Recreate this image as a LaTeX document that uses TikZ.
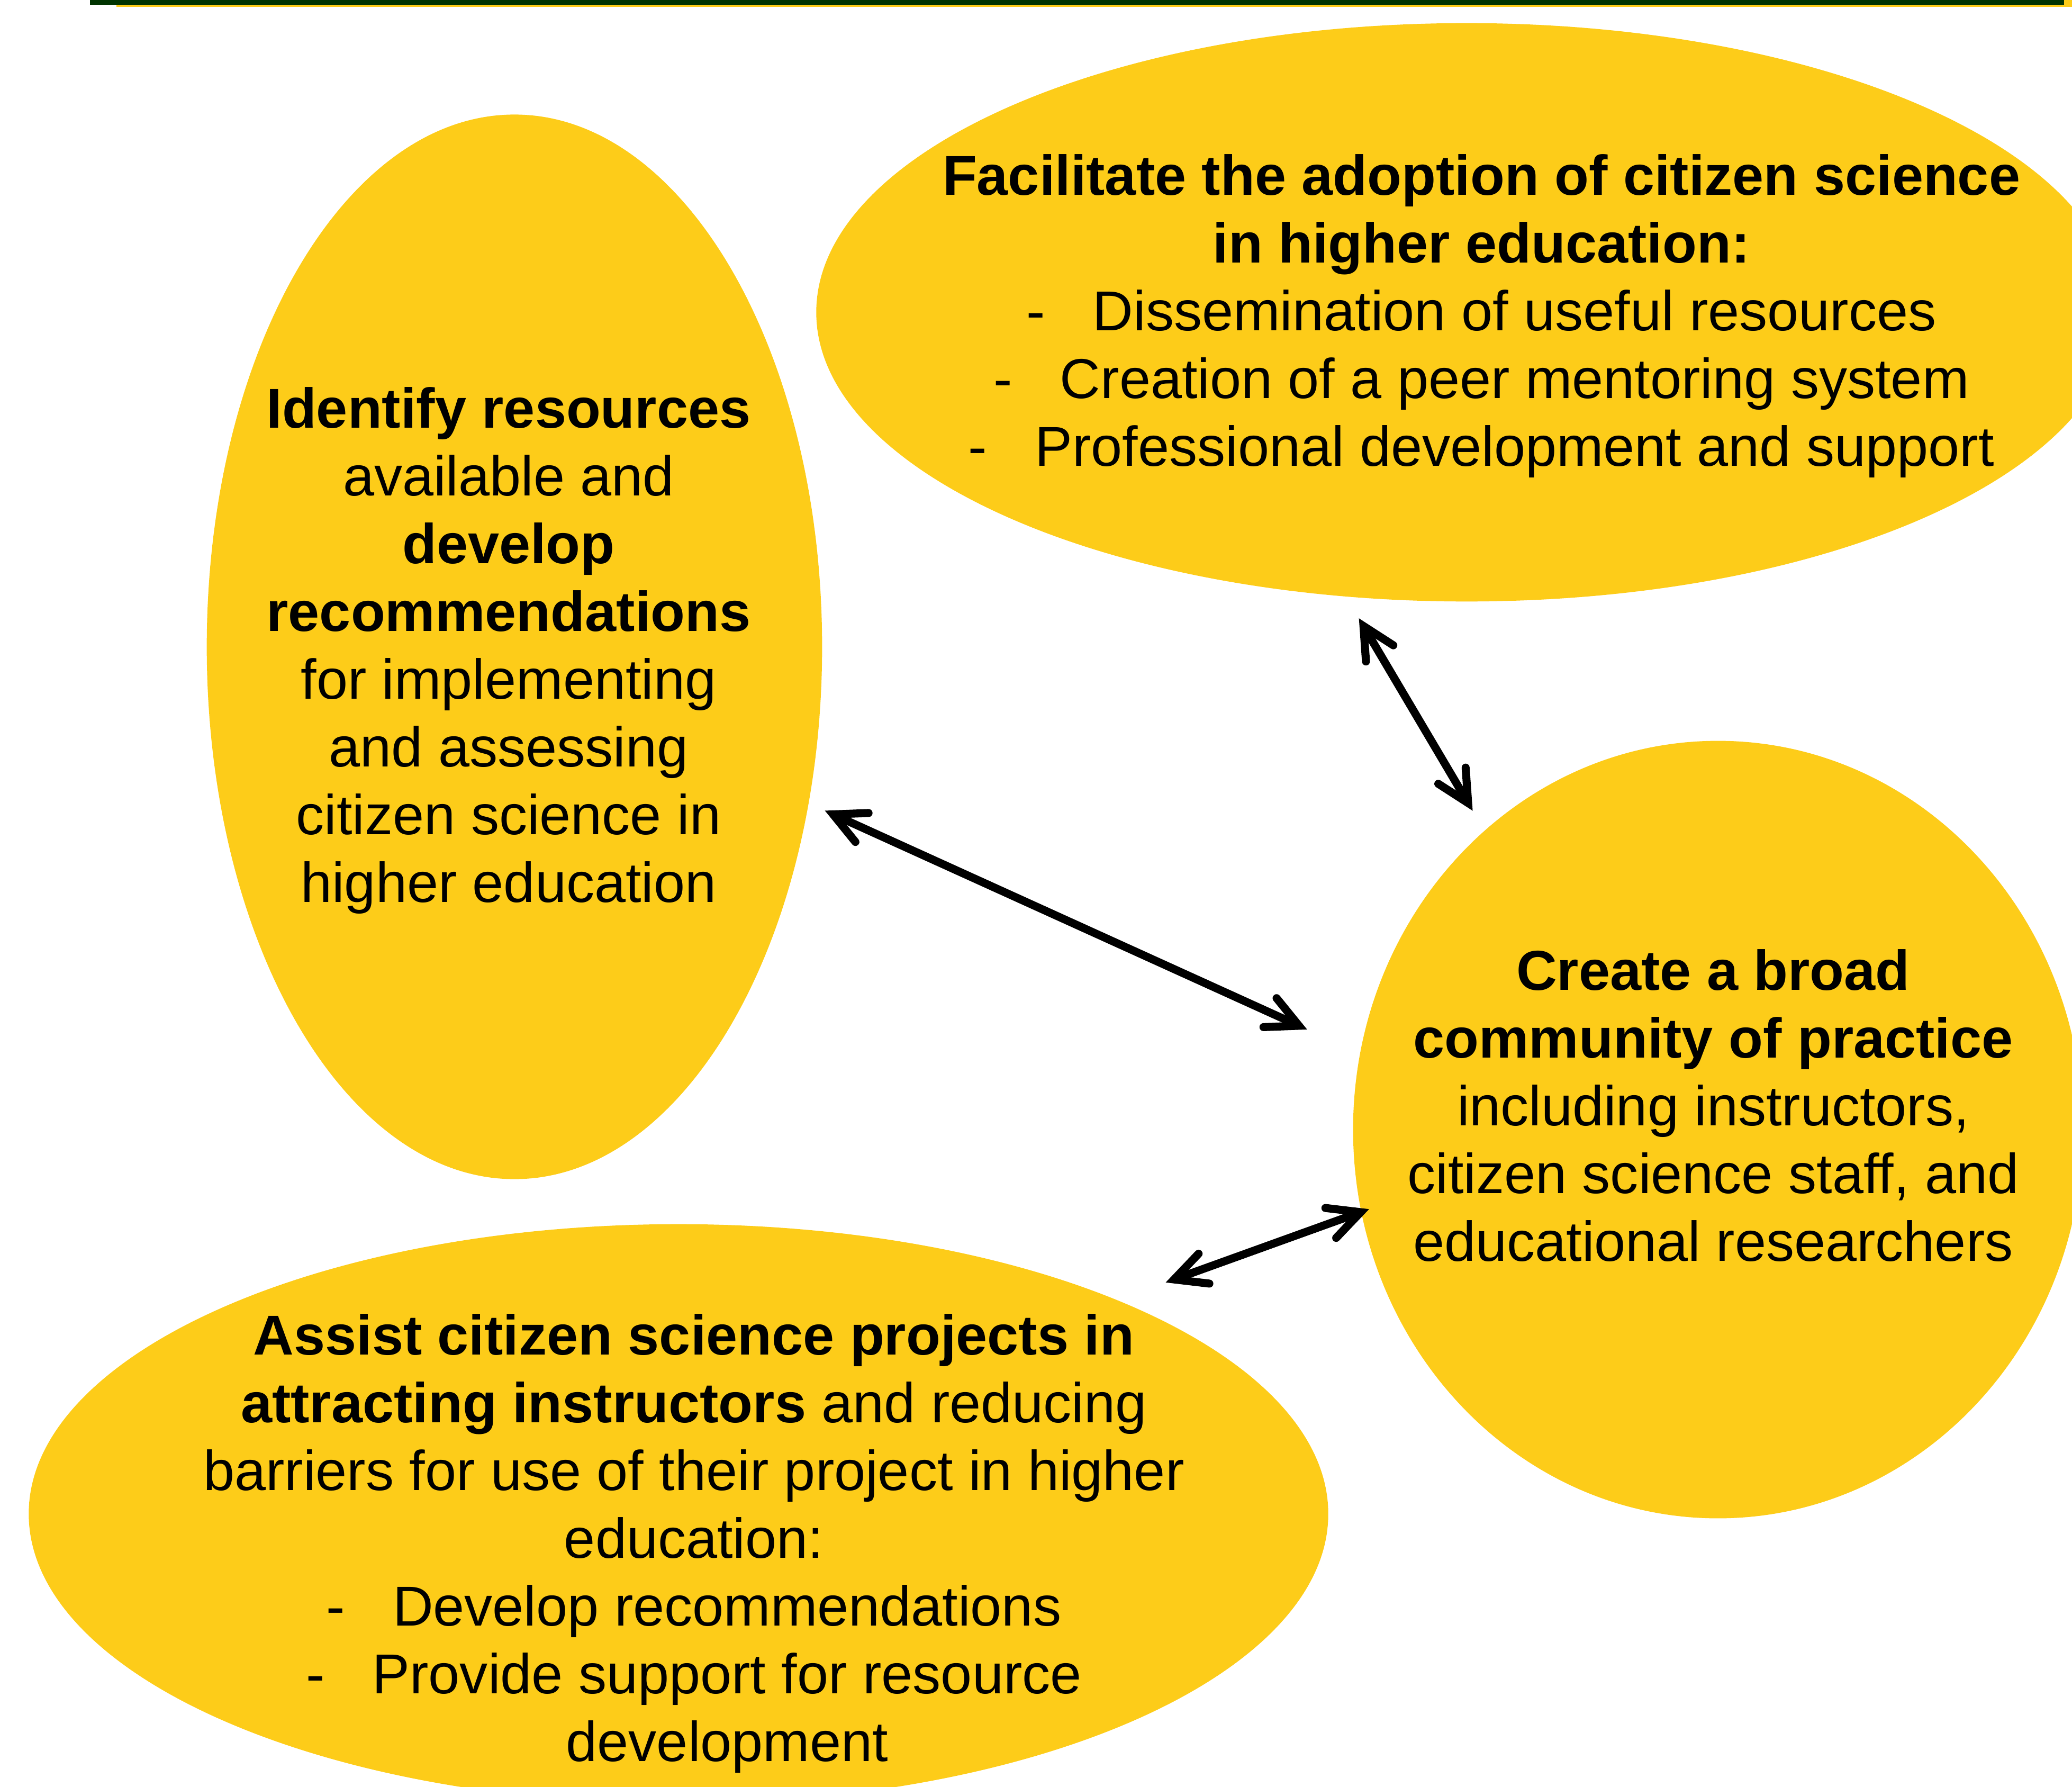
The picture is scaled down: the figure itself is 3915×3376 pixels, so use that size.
\documentclass[tikz,border=0pt]{standalone}
\usepackage{fontspec}
\setmainfont{Liberation Sans}
\usepackage{tikz}
\usetikzlibrary{shapes.geometric}
\usetikzlibrary{arrows.meta}

\definecolor{csyellow}{RGB}{253,204,25}
\definecolor{csgreen}{RGB}{0,51,0}

\tikzset{
  blob/.style={ellipse, fill=csyellow, draw=none, inner sep=0pt, outer sep=0pt},
  blobtext/.style={align=center, inner sep=0pt, font=\fontsize{30.2}{36.4}\selectfont},
  link/.style={{Straight Barb[length=0.6cm,width=0.6cm,line cap=round,line join=miter]}-{Straight Barb[length=0.6cm,width=0.6cm,line cap=round,line join=miter]}, line width=4.3pt}
}
\newcommand{\dashitem}{-\hspace{0.85em}}
\newcommand{\dashgap}{\phantom{-}\hspace{0.85em}}

\begin{document}
\begin{tikzpicture}[x=0.01cm, y=-0.01cm]
        \useasboundingbox (0,0) rectangle (3915,3376);
        \fill[csyellow] (220,0) rectangle (3915,13);
        \fill[csgreen] (170,0) rectangle (3900,9);

        \node[blob, minimum width=11.62cm, minimum height=20.10cm] (ident) at (972,1222) {};
        \node[blob, minimum width=24.56cm, minimum height=10.92cm] (adopt) at (2771,590) {};
        \node[blob, minimum width=13.78cm, minimum height=14.68cm] (comm) at (3246,2134) {};
        \node[blob, minimum width=24.54cm, minimum height=10.94cm] (assist) at (1282,2860) {};

        \node[blobtext] (identtext) at (961,1229) {\textbf{Identify resources}\\ available and\\ \textbf{develop}\\ \textbf{recommendations}\\ for implementing\\ and assessing\\ citizen science in\\ higher education};
        \node[blobtext] (adopttext) at (2799,597) {\textbf{Facilitate the adoption of citizen science}\\ \textbf{in higher education:}\\ \dashitem Dissemination of useful resources\\ \dashitem Creation of a peer mentoring system\\ \dashitem Professional development and support};
        \node[blobtext] (commtext) at (3237,2089) {\textbf{Create a broad}\\ \textbf{community of practice}\\ including instructors,\\ citizen science staff, and\\ educational researchers};
        \node[blobtext] (assisttext) at (1311,2916) {\textbf{Assist citizen science projects in}\\ \textbf{attracting instructors} and reducing\\ barriers for use of their project in higher\\ education:\\ \dashitem Develop recommendations\\ \dashitem Provide support for resource\\ \dashgap development};

        \draw[link, shorten <=0.48cm, shorten >=0.44cm] (adopt.247) -- (comm.128.9);
        \draw[link, shorten <=0.34cm, shorten >=1.10cm] (ident.-28.2) -- (comm.168);
        \draw[link, shorten <=0.98cm, shorten >=-0.155cm] (assist.26.5) -- (comm.193);
\end{tikzpicture}
\end{document}
